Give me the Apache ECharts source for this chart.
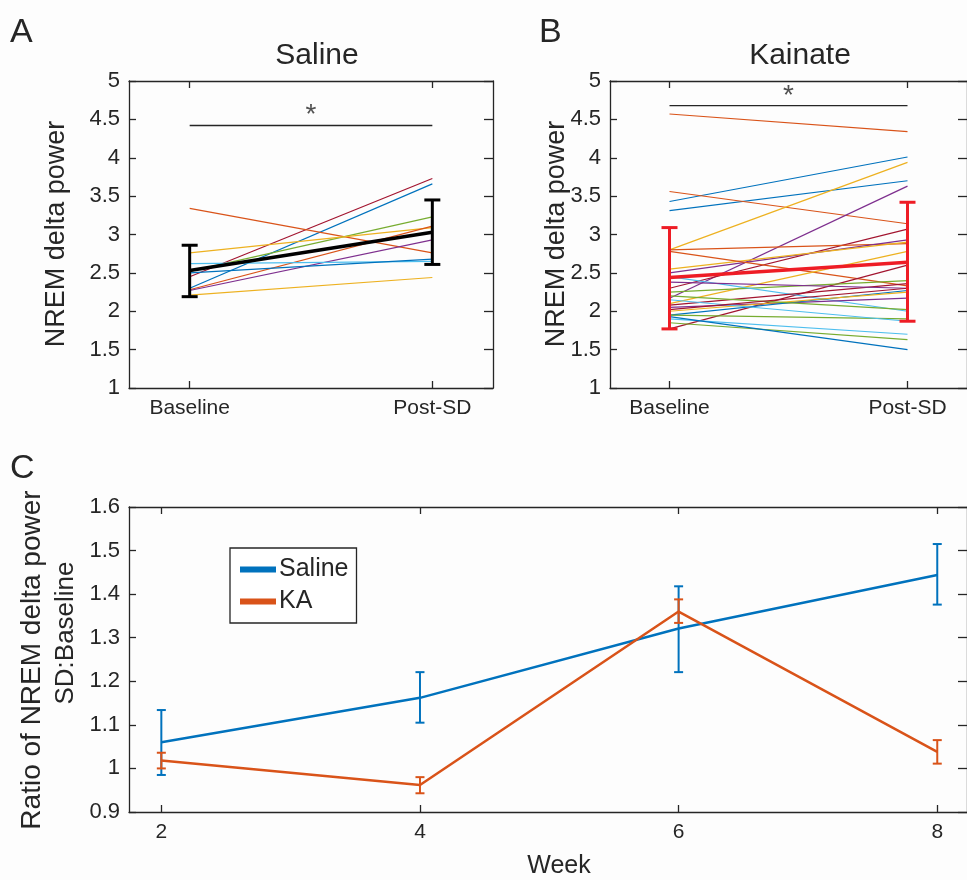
<!DOCTYPE html>
<html>
<head>
<meta charset="utf-8">
<script src="https://cdn.jsdelivr.net/npm/echarts@6/dist/echarts.min.js"></script>
<style>
  html, body { margin: 0; padding: 0; background: #fdfdfd; }
  #chart { width: 967px; height: 880px; }
</style>
</head>
<body>
<div id="chart"></div>
<script>
// MATLAB default colour order
const matColors = ['#0072BD', '#D95319', '#EDB120', '#7E2F8E', '#77AC30', '#4DBEEE', '#A2142F'];
const axisColor = '#262626';
const font = '"Liberation Sans", Arial, sans-serif';

// panel A - saline, per animal
const salineBase = [2.45, 2.30, 3.34, 2.52, 2.76, 2.28, 2.27, 2.62, 2.50, 2.21];
const salinePost = [3.73, 3.66, 2.76, 3.23, 3.09, 3.11, 2.93, 2.65, 2.68, 2.44];
const salineColorIdx = [6, 0, 1, 4, 2, 1, 3, 5, 0, 2];
const salineMean = [2.53, 3.03];
const salineLow = [2.19, 2.61];
const salineHigh = [2.86, 3.45];

// panel B - kainate, per animal
const kainateBase = [4.57, 3.43, 3.31, 3.56, 2.80, 2.17, 2.30, 2.80, 2.50, 2.55, 2.78, 2.10, 1.77, 2.25,
  2.45, 2.08, 2.05, 1.95, 2.00, 2.20, 1.95, 2.15, 1.90, 1.85, 1.93, 2.38, 2.02];
const kainatePost = [4.34, 4.01, 3.70, 3.14, 3.94, 3.63, 3.07, 2.88, 2.93, 2.90, 2.33, 2.78, 2.60, 2.40,
  2.00, 2.36, 2.17, 2.27, 2.25, 2.02, 1.90, 1.87, 1.70, 1.63, 1.50, 2.30, 2.30];
const kainateColorIdx = [1, 0, 0, 1, 2, 3, 6, 1, 3, 2, 1, 2, 6, 4, 5, 6, 3, 0, 2, 4, 4, 5, 5, 4, 0, 3, 6];
const kainateMean = [2.44, 2.64];
const kainateLow = [1.77, 1.87];
const kainateHigh = [3.09, 3.42];

const conditions = ['Baseline', 'Post-SD'];
const sigA = 4.42, starA = 4.55;
const sigB = 4.68, starB = 4.80;

// panel C - ratio by week
const weeks = [2, 4, 6, 8];
const ratioSaline = [1.060, 1.162, 1.321, 1.444];
const ratioSalineLow = [0.985, 1.105, 1.221, 1.376];
const ratioSalineHigh = [1.134, 1.221, 1.418, 1.515];
const ratioKA = [1.018, 0.962, 1.360, 1.038];
const ratioKALow = [1.000, 0.943, 1.334, 1.011];
const ratioKAHigh = [1.036, 0.980, 1.388, 1.065];

const chart = echarts.init(document.getElementById('chart'));

function errorBar(color, width, cap) {
  return function (params, api) {
    const x = api.value(0);
    const top = api.coord([x, api.value(2)]);
    const bot = api.coord([x, api.value(1)]);
    const style = { stroke: color, lineWidth: width };
    return {
      type: 'group',
      children: [
        { type: 'line', shape: { x1: top[0], y1: top[1], x2: bot[0], y2: bot[1] }, style: style },
        { type: 'line', shape: { x1: top[0] - cap, y1: top[1], x2: top[0] + cap, y2: top[1] }, style: style },
        { type: 'line', shape: { x1: bot[0] - cap, y1: bot[1], x2: bot[0] + cap, y2: bot[1] }, style: style }
      ]
    };
  };
}

function boxAxes(grid, xMin, xMax, xTicks, xLabels, yMin, yMax, yInt) {
  const lineStyle = { color: axisColor, width: 1.3 };
  const xs = [
    {
      gridIndex: grid, type: 'value', min: xMin, max: xMax, position: 'bottom',
      axisLine: { show: true, lineStyle: lineStyle },
      axisTick: { show: true, inside: true, length: 7, customValues: xTicks, lineStyle: lineStyle },
      axisLabel: {
        show: true, customValues: xTicks, margin: 10, color: axisColor, fontSize: 21, fontFamily: font,
        formatter: v => xLabels ? xLabels[xTicks.indexOf(v)] : String(v)
      },
      splitLine: { show: false }
    },
    {
      gridIndex: grid, type: 'value', min: xMin, max: xMax, position: 'top',
      axisLine: { show: true, lineStyle: lineStyle },
      axisTick: { show: true, inside: true, length: 7, customValues: xTicks, lineStyle: lineStyle },
      axisLabel: { show: false },
      splitLine: { show: false }
    }
  ];
  const ys = [
    {
      gridIndex: grid, type: 'value', min: yMin, max: yMax, interval: yInt, position: 'left',
      axisLine: { show: true, lineStyle: lineStyle },
      axisTick: { show: true, inside: true, length: 7, lineStyle: lineStyle },
      axisLabel: { margin: 9, color: axisColor, fontSize: 22, fontFamily: font },
      splitLine: { show: false }
    },
    {
      gridIndex: grid, type: 'value', min: yMin, max: yMax, interval: yInt, position: 'right',
      axisLine: { show: true, lineStyle: lineStyle },
      axisTick: { show: true, inside: true, length: 9, lineStyle: lineStyle },
      axisLabel: { show: false },
      splitLine: { show: false }
    }
  ];
  return { xs: xs, ys: ys };
}

const axA = boxAxes(0, 0.75, 2.25, [1, 2], conditions, 1, 5, 0.5);
const axB = boxAxes(1, 0.75, 2.25, [1, 2], conditions, 1, 5, 0.5);
const axC = boxAxes(2, 1.75, 8.23, weeks, null, 0.9, 1.6, 0.1);

axC.xs[0].name = 'Week';
axC.xs[0].nameLocation = 'middle';
axC.xs[0].nameGap = 42;
axC.xs[0].nameTextStyle = { fontSize: 25, color: axisColor, fontFamily: font, padding: [0, 0, 0, 22] };

const series = [];

function pairedLines(base, post, colorIdx, xIdx, yIdx) {
  base.forEach((b, i) => {
    series.push({
      type: 'line', xAxisIndex: xIdx, yAxisIndex: yIdx, silent: true, symbol: 'none', z: 2,
      lineStyle: { color: matColors[colorIdx[i]], width: 1.2 },
      data: [[1, b], [2, post[i]]]
    });
  });
}

function meanWithBars(mean, low, high, color, xIdx, yIdx) {
  series.push({
    type: 'line', xAxisIndex: xIdx, yAxisIndex: yIdx, silent: true, symbol: 'none', z: 5,
    lineStyle: { color: color, width: 3.5 },
    data: mean.map((m, i) => [i + 1, m])
  });
  series.push({
    type: 'custom', xAxisIndex: xIdx, yAxisIndex: yIdx, silent: true, z: 6,
    renderItem: errorBar(color, 3, 8),
    encode: { x: 0, y: [1, 2] },
    data: mean.map((m, i) => [i + 1, low[i], high[i]])
  });
}

function sigMark(lineY, starY, xIdx, yIdx) {
  series.push({
    type: 'line', xAxisIndex: xIdx, yAxisIndex: yIdx, silent: true, symbol: 'none',
    lineStyle: { color: axisColor, width: 1.3 },
    data: [[1, lineY], [2, lineY]]
  });
  series.push({
    type: 'scatter', xAxisIndex: xIdx, yAxisIndex: yIdx, silent: true, symbolSize: 1,
    itemStyle: { color: 'rgba(0,0,0,0)' },
    label: { show: true, position: 'inside', formatter: '*', fontSize: 28, color: axisColor, fontFamily: font },
    data: [[1.5, starY]]
  });
}

pairedLines(salineBase, salinePost, salineColorIdx, 0, 0);
meanWithBars(salineMean, salineLow, salineHigh, '#000000', 0, 0);
sigMark(sigA, starA, 0, 0);

pairedLines(kainateBase, kainatePost, kainateColorIdx, 2, 2);
meanWithBars(kainateMean, kainateLow, kainateHigh, '#EE1C25', 2, 2);
sigMark(sigB, starB, 2, 2);

[['Saline', ratioSaline, ratioSalineLow, ratioSalineHigh, matColors[0]],
 ['KA', ratioKA, ratioKALow, ratioKAHigh, matColors[1]]].forEach(([name, mean, low, high, color]) => {
  series.push({
    name: name, type: 'line', xAxisIndex: 4, yAxisIndex: 4, symbol: 'none', z: 4,
    lineStyle: { color: color, width: 2.5 }, itemStyle: { color: color },
    data: weeks.map((w, i) => [w, mean[i]])
  });
  series.push({
    name: name, type: 'custom', xAxisIndex: 4, yAxisIndex: 4, silent: true, z: 4,
    renderItem: errorBar(color, 2, 4.5),
    encode: { x: 0, y: [1, 2] },
    data: weeks.map((w, i) => [w, low[i], high[i]])
  });
});

const labelStyle = (text, size) => ({ text: text, fontSize: size, fill: axisColor, fontFamily: font, align: 'center', verticalAlign: 'middle' });

const option = {
  backgroundColor: '#fdfdfd',
  animation: false,
  textStyle: { fontFamily: font },
  title: [
    { text: 'Saline', left: 312, top: 36, textAlign: 'center', textStyle: { fontSize: 30, fontWeight: 'normal', color: axisColor, fontFamily: font } },
    { text: 'Kainate', left: 795, top: 36, textAlign: 'center', textStyle: { fontSize: 30, fontWeight: 'normal', color: axisColor, fontFamily: font } }
  ],
  graphic: [
    { type: 'text', left: 10, top: 16, style: { text: 'A', fontSize: 34, fill: axisColor, fontFamily: font } },
    { type: 'text', left: 539, top: 16, style: { text: 'B', fontSize: 34, fill: axisColor, fontFamily: font } },
    { type: 'text', left: 10, top: 452, style: { text: 'C', fontSize: 34, fill: axisColor, fontFamily: font } },
    { type: 'text', x: 57, y: 234, rotation: Math.PI / 2, style: labelStyle('NREM delta power', 27) },
    { type: 'text', x: 557, y: 234, rotation: Math.PI / 2, style: labelStyle('NREM delta power', 27) },
    { type: 'text', x: 32, y: 660, rotation: Math.PI / 2, style: labelStyle('Ratio of NREM delta power', 28) },
    { type: 'text', x: 66, y: 633, rotation: Math.PI / 2, style: labelStyle('SD:Baseline', 26) }
  ],
  legend: {
    data: ['Saline', 'KA'],
    orient: 'vertical',
    left: 230, top: 548,
    padding: [9, 8, 9, 10],
    itemGap: 7,
    itemWidth: 36, itemHeight: 6,
    icon: 'rect',
    borderColor: axisColor, borderWidth: 1.3,
    backgroundColor: '#ffffff',
    selectedMode: false,
    textStyle: { fontSize: 25, color: axisColor, fontFamily: font, padding: [0, 0, 0, -2] }
  },
  grid: [
    { left: 129, top: 81, width: 364, height: 307 },
    { left: 610, top: 81, width: 366, height: 307 },
    { left: 129, top: 507, width: 843, height: 305 }
  ],
  xAxis: [].concat(axA.xs, axB.xs, axC.xs),
  yAxis: [].concat(axA.ys, axB.ys, axC.ys),
  series: series
};

chart.setOption(option);
window.addEventListener('resize', chart.resize);
</script>
</body>
</html>
